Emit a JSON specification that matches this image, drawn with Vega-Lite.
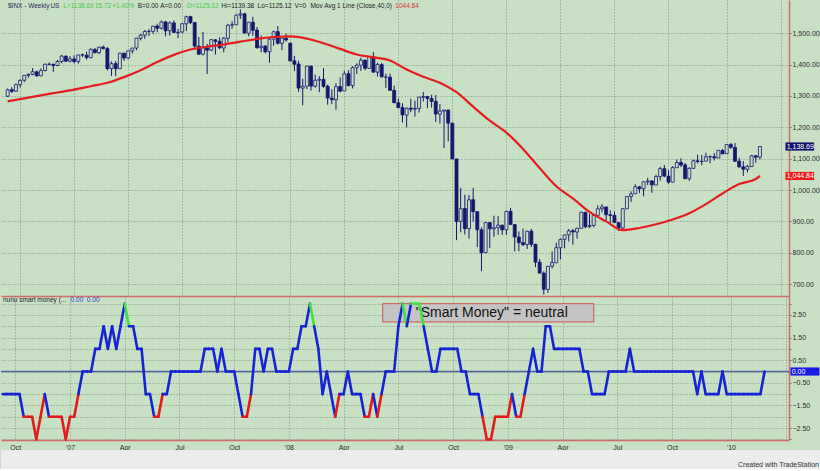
{
"$schema": "https://vega.github.io/schema/vega-lite/v6.json",
"background": "#c8e1c5",
"padding": 0,
"spacing": 0,
"config": {
  "view": {"stroke": null},
  "axis": {"labelFont": "Liberation Sans", "labelFontSize": 7, "labelColor": "#2a2a2a", "gridColor": "#6f806f", "gridDash": [1, 2], "gridOpacity": 0.8, "domainColor": "#d46a6a", "domainWidth": 1.5, "tickColor": "#6a6a6a", "labelOverlap": false},
  "text": {"font": "Liberation Sans"}
},
"datasets": {
"w": [
{"d":"2006-09-15","o":1299,"h":1324,"l":1297,"c":1319.66,"s":-1},
{"d":"2006-09-22","o":1320,"h":1328,"l":1309,"c":1314.78,"s":-1},
{"d":"2006-09-29","o":1315,"h":1340,"l":1314,"c":1335.85,"s":-1},
{"d":"2006-10-06","o":1336,"h":1353,"l":1327,"c":1349.59,"s":-1},
{"d":"2006-10-13","o":1350,"h":1366,"l":1344,"c":1365.62,"s":-1},
{"d":"2006-10-20","o":1366,"h":1372,"l":1358,"c":1368.6,"s":-2},
{"d":"2006-10-27","o":1369,"h":1389,"l":1366,"c":1377.34,"s":-2},
{"d":"2006-11-03","o":1377,"h":1381,"l":1361,"c":1364.3,"s":-2},
{"d":"2006-11-10","o":1364,"h":1388,"l":1363,"c":1380.9,"s":-3},
{"d":"2006-11-17","o":1381,"h":1403,"l":1378,"c":1401.2,"s":-2},
{"d":"2006-11-24","o":1401,"h":1407,"l":1398,"c":1400.95,"s":-1},
{"d":"2006-12-01","o":1401,"h":1403,"l":1377,"c":1396.71,"s":-2},
{"d":"2006-12-08","o":1397,"h":1415,"l":1395,"c":1409.84,"s":-2},
{"d":"2006-12-15","o":1410,"h":1431,"l":1404,"c":1427.09,"s":-2},
{"d":"2006-12-22","o":1427,"h":1429,"l":1409,"c":1410.76,"s":-2},
{"d":"2006-12-29","o":1411,"h":1427,"l":1407,"c":1418.3,"s":-3},
{"d":"2007-01-05","o":1418,"h":1429,"l":1404,"c":1409.71,"s":-2},
{"d":"2007-01-12","o":1410,"h":1431,"l":1403,"c":1430.73,"s":-2},
{"d":"2007-01-19","o":1431,"h":1435,"l":1424,"c":1430.5,"s":-1},
{"d":"2007-01-26","o":1430,"h":1441,"l":1416,"c":1422.18,"s":0},
{"d":"2007-02-02","o":1422,"h":1452,"l":1420,"c":1448.39,"s":0},
{"d":"2007-02-09","o":1448,"h":1453,"l":1436,"c":1438.06,"s":0},
{"d":"2007-02-16","o":1438,"h":1457,"l":1433,"c":1455.54,"s":1},
{"d":"2007-02-23","o":1456,"h":1461,"l":1448,"c":1451.19,"s":1},
{"d":"2007-03-02","o":1451,"h":1456,"l":1381,"c":1387.17,"s":2},
{"d":"2007-03-09","o":1387,"h":1410,"l":1364,"c":1402.84,"s":1},
{"d":"2007-03-16","o":1403,"h":1411,"l":1363,"c":1386.95,"s":2},
{"d":"2007-03-23","o":1387,"h":1438,"l":1386,"c":1436.11,"s":1},
{"d":"2007-03-30","o":1436,"h":1438,"l":1412,"c":1420.86,"s":2},
{"d":"2007-04-06","o":1421,"h":1445,"l":1417,"c":1443.76,"s":3},
{"d":"2007-04-13","o":1444,"h":1453,"l":1435,"c":1452.85,"s":2},
{"d":"2007-04-20","o":1453,"h":1485,"l":1446,"c":1484.35,"s":2},
{"d":"2007-04-27","o":1484,"h":1498,"l":1477,"c":1494.07,"s":1},
{"d":"2007-05-04","o":1494,"h":1510,"l":1482,"c":1505.62,"s":1},
{"d":"2007-05-11","o":1506,"h":1513,"l":1491,"c":1505.85,"s":-1},
{"d":"2007-05-18","o":1506,"h":1523,"l":1498,"c":1522.75,"s":-1},
{"d":"2007-05-25","o":1523,"h":1530,"l":1503,"c":1515.73,"s":-2},
{"d":"2007-06-01","o":1516,"h":1540,"l":1512,"c":1536.34,"s":-2},
{"d":"2007-06-08","o":1536,"h":1540,"l":1490,"c":1507.67,"s":-1},
{"d":"2007-06-15","o":1508,"h":1538,"l":1492,"c":1532.91,"s":-1},
{"d":"2007-06-22","o":1533,"h":1541,"l":1502,"c":1502.56,"s":0},
{"d":"2007-06-29","o":1502,"h":1514,"l":1484,"c":1503.35,"s":0},
{"d":"2007-07-06","o":1504,"h":1532,"l":1500,"c":1530.44,"s":0},
{"d":"2007-07-13","o":1530,"h":1556,"l":1507,"c":1552.5,"s":0},
{"d":"2007-07-20","o":1553,"h":1556,"l":1529,"c":1534.1,"s":0},
{"d":"2007-07-27","o":1534,"h":1535,"l":1453,"c":1458.95,"s":0},
{"d":"2007-08-03","o":1459,"h":1488,"l":1432,"c":1433.06,"s":0},
{"d":"2007-08-10","o":1433,"h":1504,"l":1429,"c":1453.64,"s":0},
{"d":"2007-08-17","o":1453,"h":1466,"l":1370,"c":1445.94,"s":1},
{"d":"2007-08-24","o":1446,"h":1481,"l":1443,"c":1479.37,"s":1},
{"d":"2007-08-31","o":1479,"h":1481,"l":1432,"c":1473.99,"s":1},
{"d":"2007-09-07","o":1474,"h":1487,"l":1449,"c":1453.55,"s":0},
{"d":"2007-09-14","o":1453,"h":1488,"l":1439,"c":1484.25,"s":1},
{"d":"2007-09-21","o":1484,"h":1530,"l":1471,"c":1525.75,"s":0},
{"d":"2007-09-28","o":1526,"h":1538,"l":1514,"c":1526.75,"s":0},
{"d":"2007-10-05","o":1527,"h":1560,"l":1527,"c":1557.59,"s":0},
{"d":"2007-10-12","o":1558,"h":1576,"l":1546,"c":1561.8,"s":-1},
{"d":"2007-10-19","o":1562,"h":1565,"l":1500,"c":1500.63,"s":-2},
{"d":"2007-10-26","o":1500,"h":1536,"l":1490,"c":1535.28,"s":-2},
{"d":"2007-11-02","o":1535,"h":1552,"l":1492,"c":1509.65,"s":-1},
{"d":"2007-11-09","o":1510,"h":1520,"l":1451,"c":1453.7,"s":1},
{"d":"2007-11-16","o":1454,"h":1493,"l":1439,"c":1458.74,"s":1},
{"d":"2007-11-23","o":1459,"h":1462,"l":1436,"c":1440.7,"s":0},
{"d":"2007-11-30","o":1441,"h":1488,"l":1406,"c":1481.14,"s":1},
{"d":"2007-12-07","o":1481,"h":1508,"l":1460,"c":1504.66,"s":1},
{"d":"2007-12-14","o":1505,"h":1523,"l":1464,"c":1467.95,"s":0},
{"d":"2007-12-21","o":1468,"h":1485,"l":1446,"c":1484.46,"s":0},
{"d":"2007-12-28","o":1484,"h":1499,"l":1473,"c":1478.49,"s":0},
{"d":"2008-01-04","o":1468,"h":1471,"l":1411,"c":1411.63,"s":0},
{"d":"2008-01-11","o":1412,"h":1428,"l":1379,"c":1401.02,"s":1},
{"d":"2008-01-18","o":1402,"h":1412,"l":1313,"c":1325.19,"s":1},
{"d":"2008-01-25","o":1325,"h":1355,"l":1270,"c":1330.61,"s":2},
{"d":"2008-02-01","o":1331,"h":1396,"l":1322,"c":1395.42,"s":2},
{"d":"2008-02-08","o":1395,"h":1397,"l":1317,"c":1331.29,"s":3},
{"d":"2008-02-15","o":1331,"h":1368,"l":1326,"c":1349.99,"s":2},
{"d":"2008-02-22","o":1350,"h":1363,"l":1312,"c":1353.11,"s":1},
{"d":"2008-02-29","o":1353,"h":1389,"l":1326,"c":1330.63,"s":-1},
{"d":"2008-03-07","o":1331,"h":1336,"l":1272,"c":1293.37,"s":0},
{"d":"2008-03-14","o":1293,"h":1321,"l":1274,"c":1288.14,"s":-1},
{"d":"2008-03-21","o":1288,"h":1341,"l":1256,"c":1329.51,"s":-2},
{"d":"2008-03-28","o":1330,"h":1359,"l":1312,"c":1315.22,"s":-1},
{"d":"2008-04-04","o":1316,"h":1380,"l":1316,"c":1370.4,"s":-1},
{"d":"2008-04-11","o":1371,"h":1382,"l":1331,"c":1332.83,"s":0},
{"d":"2008-04-18","o":1333,"h":1395,"l":1324,"c":1390.33,"s":-1},
{"d":"2008-04-25","o":1390,"h":1404,"l":1370,"c":1397.84,"s":-1},
{"d":"2008-05-02","o":1398,"h":1422,"l":1380,"c":1413.9,"s":-1},
{"d":"2008-05-09","o":1414,"h":1416,"l":1382,"c":1388.28,"s":-2},
{"d":"2008-05-16","o":1388,"h":1426,"l":1386,"c":1425.35,"s":-2},
{"d":"2008-05-23","o":1425,"h":1440,"l":1374,"c":1375.93,"s":-1},
{"d":"2008-05-30","o":1376,"h":1406,"l":1362,"c":1400.38,"s":-2},
{"d":"2008-06-06","o":1400,"h":1405,"l":1360,"c":1360.68,"s":-1},
{"d":"2008-06-13","o":1360,"h":1371,"l":1326,"c":1360.03,"s":0},
{"d":"2008-06-20","o":1360,"h":1371,"l":1316,"c":1317.93,"s":0},
{"d":"2008-06-27","o":1318,"h":1333,"l":1278,"c":1278.38,"s":0},
{"d":"2008-07-04","o":1278,"h":1292,"l":1261,"c":1262.9,"s":2},
{"d":"2008-07-11","o":1263,"h":1277,"l":1215,"c":1239.49,"s":3},
{"d":"2008-07-18","o":1239,"h":1263,"l":1200,"c":1260.68,"s":2},
{"d":"2008-07-25","o":1261,"h":1291,"l":1248,"c":1257.76,"s":3},
{"d":"2008-08-01","o":1258,"h":1285,"l":1234,"c":1260.31,"s":3},
{"d":"2008-08-08","o":1260,"h":1297,"l":1247,"c":1296.32,"s":3},
{"d":"2008-08-15","o":1296,"h":1313,"l":1282,"c":1298.2,"s":2},
{"d":"2008-08-22","o":1298,"h":1300,"l":1261,"c":1292.2,"s":1},
{"d":"2008-08-29","o":1292,"h":1304,"l":1263,"c":1282.83,"s":0},
{"d":"2008-09-05","o":1283,"h":1303,"l":1217,"c":1242.31,"s":0},
{"d":"2008-09-12","o":1242,"h":1274,"l":1212,"c":1251.7,"s":1},
{"d":"2008-09-19","o":1252,"h":1255,"l":1134,"c":1255.08,"s":1},
{"d":"2008-09-26","o":1255,"h":1256,"l":1155,"c":1213.27,"s":1},
{"d":"2008-10-03","o":1213,"h":1215,"l":1099,"c":1099.23,"s":1},
{"d":"2008-10-10","o":1099,"h":1099,"l":840,"c":899.22,"s":1},
{"d":"2008-10-17","o":900,"h":1007,"l":865,"c":940.55,"s":0},
{"d":"2008-10-24","o":941,"h":985,"l":858,"c":876.77,"s":0},
{"d":"2008-10-31","o":877,"h":984,"l":845,"c":968.75,"s":-1},
{"d":"2008-11-07","o":969,"h":1007,"l":899,"c":930.99,"s":-1},
{"d":"2008-11-14","o":931,"h":933,"l":818,"c":873.29,"s":-1},
{"d":"2008-11-21","o":873,"h":881,"l":741,"c":800.03,"s":-2},
{"d":"2008-11-28","o":800,"h":896,"l":799,"c":896.24,"s":-3},
{"d":"2008-12-05","o":896,"h":896,"l":815,"c":876.07,"s":-3},
{"d":"2008-12-12","o":876,"h":918,"l":851,"c":879.73,"s":-2},
{"d":"2008-12-19","o":880,"h":917,"l":857,"c":887.88,"s":-2},
{"d":"2008-12-26","o":888,"h":889,"l":857,"c":872.8,"s":-2},
{"d":"2009-01-02","o":873,"h":934,"l":857,"c":931.8,"s":-2},
{"d":"2009-01-09","o":932,"h":943,"l":889,"c":890.35,"s":-1},
{"d":"2009-01-16","o":890,"h":890,"l":804,"c":850.12,"s":-2},
{"d":"2009-01-23","o":850,"h":868,"l":805,"c":831.95,"s":-2},
{"d":"2009-01-30","o":832,"h":877,"l":821,"c":825.88,"s":-1},
{"d":"2009-02-06","o":826,"h":870,"l":812,"c":868.6,"s":0},
{"d":"2009-02-13","o":869,"h":876,"l":818,"c":826.84,"s":1},
{"d":"2009-02-20","o":827,"h":828,"l":754,"c":770.05,"s":0},
{"d":"2009-02-27","o":770,"h":780,"l":735,"c":735.09,"s":0},
{"d":"2009-03-06","o":735,"h":741,"l":667,"c":683.38,"s":2},
{"d":"2009-03-13","o":683,"h":758,"l":672,"c":756.55,"s":2},
{"d":"2009-03-20","o":757,"h":804,"l":750,"c":768.54,"s":1},
{"d":"2009-03-27","o":768,"h":832,"l":767,"c":815.94,"s":1},
{"d":"2009-04-03","o":816,"h":845,"l":779,"c":842.5,"s":1},
{"d":"2009-04-10","o":843,"h":857,"l":814,"c":856.56,"s":1},
{"d":"2009-04-17","o":857,"h":876,"l":836,"c":869.6,"s":1},
{"d":"2009-04-24","o":870,"h":876,"l":826,"c":866.23,"s":1},
{"d":"2009-05-01","o":866,"h":880,"l":845,"c":877.52,"s":1},
{"d":"2009-05-08","o":878,"h":930,"l":878,"c":929.23,"s":0},
{"d":"2009-05-15","o":929,"h":930,"l":878,"c":882.88,"s":0},
{"d":"2009-05-22","o":883,"h":924,"l":879,"c":887,"s":-1},
{"d":"2009-05-29","o":887,"h":920,"l":881,"c":919.14,"s":-1},
{"d":"2009-06-05","o":919,"h":951,"l":919,"c":940.09,"s":-1},
{"d":"2009-06-12","o":940,"h":956,"l":928,"c":946.21,"s":-1},
{"d":"2009-06-19","o":946,"h":946,"l":903,"c":921.23,"s":0},
{"d":"2009-06-26","o":921,"h":935,"l":888,"c":918.9,"s":0},
{"d":"2009-07-03","o":919,"h":931,"l":896,"c":896.42,"s":0},
{"d":"2009-07-10","o":896,"h":898,"l":869,"c":879.13,"s":0},
{"d":"2009-07-17","o":879,"h":943,"l":875,"c":940.38,"s":0},
{"d":"2009-07-24","o":940,"h":980,"l":940,"c":979.26,"s":1},
{"d":"2009-07-31","o":979,"h":996,"l":962,"c":987.48,"s":0},
{"d":"2009-08-07","o":988,"h":1018,"l":988,"c":1010.48,"s":0},
{"d":"2009-08-14","o":1010,"h":1013,"l":990,"c":1004.09,"s":0},
{"d":"2009-08-21","o":1004,"h":1027,"l":980,"c":1026.13,"s":0},
{"d":"2009-08-28","o":1026,"h":1039,"l":1016,"c":1028.93,"s":0},
{"d":"2009-09-04","o":1029,"h":1031,"l":991,"c":1016.4,"s":0},
{"d":"2009-09-11","o":1016,"h":1049,"l":1016,"c":1042.73,"s":0},
{"d":"2009-09-18","o":1043,"h":1074,"l":1030,"c":1068.3,"s":0},
{"d":"2009-09-25","o":1068,"h":1080,"l":1041,"c":1044.38,"s":0},
{"d":"2009-10-02","o":1044,"h":1063,"l":1020,"c":1025.21,"s":0},
{"d":"2009-10-09","o":1025,"h":1076,"l":1025,"c":1071.49,"s":0},
{"d":"2009-10-16","o":1071,"h":1097,"l":1071,"c":1087.68,"s":0},
{"d":"2009-10-23","o":1088,"h":1101,"l":1073,"c":1079.6,"s":0},
{"d":"2009-10-30","o":1080,"h":1086,"l":1034,"c":1036.19,"s":0},
{"d":"2009-11-06","o":1036,"h":1072,"l":1029,"c":1069.3,"s":0},
{"d":"2009-11-13","o":1069,"h":1097,"l":1069,"c":1093.48,"s":-1},
{"d":"2009-11-20","o":1093,"h":1113,"l":1085,"c":1091.38,"s":0},
{"d":"2009-11-27","o":1091,"h":1112,"l":1079,"c":1091.49,"s":-1},
{"d":"2009-12-04","o":1092,"h":1119,"l":1092,"c":1105.98,"s":-1},
{"d":"2009-12-11","o":1106,"h":1110,"l":1085,"c":1106.41,"s":-1},
{"d":"2009-12-18","o":1106,"h":1118,"l":1094,"c":1102.47,"s":-1},
{"d":"2009-12-25","o":1102,"h":1127,"l":1102,"c":1126.48,"s":0},
{"d":"2010-01-01","o":1126,"h":1131,"l":1115,"c":1115.1,"s":-1},
{"d":"2010-01-08","o":1116,"h":1146,"l":1116,"c":1144.98,"s":-1},
{"d":"2010-01-15","o":1145,"h":1150,"l":1131,"c":1136.03,"s":-1},
{"d":"2010-01-22","o":1136,"h":1150,"l":1090,"c":1091.76,"s":-1},
{"d":"2010-01-29","o":1092,"h":1103,"l":1071,"c":1073.87,"s":-1},
{"d":"2010-02-05","o":1074,"h":1092,"l":1045,"c":1066.19,"s":-1},
{"d":"2010-02-12","o":1066,"h":1080,"l":1056,"c":1075.51,"s":-1},
{"d":"2010-02-19","o":1075,"h":1112,"l":1075,"c":1109.17,"s":-1},
{"d":"2010-02-26","o":1109,"h":1112,"l":1087,"c":1104.49,"s":-1},
{"d":"2010-03-05","o":1105,"h":1139,"l":1098,"c":1138.7,"s":0}
],
"ma": [
{"d":"2006-09-15","v":1283},{"d":"2006-10-13","v":1292},{"d":"2006-11-10","v":1302},{"d":"2006-12-08","v":1311},
{"d":"2007-01-05","v":1320},{"d":"2007-02-02","v":1331},{"d":"2007-03-02","v":1342},{"d":"2007-03-30","v":1360},
{"d":"2007-04-27","v":1382},{"d":"2007-05-25","v":1408},{"d":"2007-06-22","v":1431},{"d":"2007-07-20","v":1448},
{"d":"2007-08-17","v":1457},{"d":"2007-09-14","v":1464},{"d":"2007-10-12","v":1473},{"d":"2007-11-09","v":1482},
{"d":"2007-12-07","v":1488},{"d":"2008-01-04","v":1490},{"d":"2008-02-01","v":1483},{"d":"2008-02-29","v":1468},
{"d":"2008-03-28","v":1450},{"d":"2008-04-25","v":1432},{"d":"2008-05-23","v":1423},{"d":"2008-06-20","v":1413},
{"d":"2008-07-18","v":1384},{"d":"2008-08-15","v":1361},{"d":"2008-09-12","v":1342},{"d":"2008-10-10","v":1312},
{"d":"2008-11-07","v":1266},{"d":"2008-12-05","v":1221},{"d":"2009-01-02","v":1183},{"d":"2009-01-30","v":1131},
{"d":"2009-02-27","v":1070},{"d":"2009-03-27","v":1012},{"d":"2009-04-24","v":973},{"d":"2009-05-22","v":930},
{"d":"2009-06-19","v":900},{"d":"2009-07-17","v":872},{"d":"2009-08-14","v":879},{"d":"2009-09-11","v":891},
{"d":"2009-10-09","v":906},{"d":"2009-11-06","v":926},{"d":"2009-12-04","v":955},{"d":"2010-01-01","v":989},
{"d":"2010-01-29","v":1019},{"d":"2010-02-26","v":1035},{"d":"2010-03-05","v":1044.84}
]
},
"vconcat": [
{
  "width": 788, "height": 296,
  "layer": [
    {"data": {"name": "w", "format": {"parse": {"d": "date"}}},
     "mark": {"type": "rule", "color": "#16166e", "strokeWidth": 1},
     "encoding": {
       "x": {"field": "d", "type": "temporal",
             "scale": {"type": "utc", "domain": [{"year":2006,"month":9,"date":12,"hours":6,"utc":true},{"year":2010,"month":4,"date":14,"hours":13,"utc":true}]},
             "axis": {"title": null, "labels": false, "ticks": false, "domain": true, "grid": true, "tickCount": 40,
                      "values": [{"year":2006,"month":10,"date":6,"utc":true},{"year":2007,"month":1,"date":5,"utc":true},{"year":2007,"month":4,"date":6,"utc":true},{"year":2007,"month":7,"date":6,"utc":true},{"year":2007,"month":10,"date":5,"utc":true},{"year":2008,"month":1,"date":4,"utc":true},{"year":2008,"month":4,"date":4,"utc":true},{"year":2008,"month":7,"date":4,"utc":true},{"year":2008,"month":10,"date":3,"utc":true},{"year":2009,"month":1,"date":2,"utc":true},{"year":2009,"month":4,"date":3,"utc":true},{"year":2009,"month":7,"date":3,"utc":true},{"year":2009,"month":10,"date":2,"utc":true},{"year":2010,"month":1,"date":8,"utc":true},{"year":2010,"month":4,"date":9,"utc":true}]}},
       "y": {"field": "l", "type": "quantitative",
             "scale": {"domain": [662, 1606], "nice": false, "zero": false},
             "axis": {"title": null, "orient": "right", "values": [700,800,900,1000,1100,1200,1300,1400,1500], "tickCount": 40, "format": ",.2f", "grid": true, "tickSize": 2, "labelPadding": 1, "labelOverlap": false}},
       "y2": {"field": "h"}
     }},
    {"data": {"name": "w", "format": {"parse": {"d": "date"}}},
     "mark": {"type": "bar", "width": 3, "stroke": "#16166e", "strokeWidth": 0.8},
     "encoding": {
       "x": {"field": "d", "type": "temporal"},
       "y": {"field": "o", "type": "quantitative"},
       "y2": {"field": "c"},
       "fill": {"condition": {"test": "datum.c > datum.o", "value": "#c8e1c5"}, "value": "#16166e"}
     }},
    {"data": {"name": "ma", "format": {"parse": {"d": "date"}}},
     "mark": {"type": "line", "color": "#e41e1e", "strokeWidth": 2.2, "interpolate": "monotone"},
     "encoding": {"x": {"field": "d", "type": "temporal"}, "y": {"field": "v", "type": "quantitative"}}},
    {"data": {"values": [{}]}, "mark": {"type": "text", "align": "left", "baseline": "middle", "fontSize": 6.5, "color": "#2c2c5c"},
     "encoding": {"x": {"datum": {"year":2006,"month":9,"date":15,"hours":14,"utc":true}, "type": "temporal"}, "y": {"datum": 1587, "type": "quantitative"}, "text": {"value": "$INX - Weekly"}}},
    {"data": {"values": [{}]}, "mark": {"type": "text", "align": "left", "baseline": "middle", "fontSize": 6.5, "color": "#2c2c5c"},
     "encoding": {"x": {"datum": {"year":2006,"month":11,"date":26,"utc":true}, "type": "temporal"}, "y": {"datum": 1587, "type": "quantitative"}, "text": {"value": "US"}}},
    {"data": {"values": [{}]}, "mark": {"type": "text", "align": "left", "baseline": "middle", "fontSize": 6.5, "color": "#46c846"},
     "encoding": {"x": {"datum": {"year":2006,"month":12,"date":17,"hours":16,"utc":true}, "type": "temporal"}, "y": {"datum": 1587, "type": "quantitative"}, "text": {"value": "L=1138.69"}}},
    {"data": {"values": [{}]}, "mark": {"type": "text", "align": "left", "baseline": "middle", "fontSize": 6.5, "color": "#46c846"},
     "encoding": {"x": {"datum": {"year":2007,"month":2,"date":9,"utc":true}, "type": "temporal"}, "y": {"datum": 1587, "type": "quantitative"}, "text": {"value": "15.72"}}},
    {"data": {"values": [{}]}, "mark": {"type": "text", "align": "left", "baseline": "middle", "fontSize": 6.5, "color": "#46c846"},
     "encoding": {"x": {"datum": {"year":2007,"month":3,"date":10,"utc":true}, "type": "temporal"}, "y": {"datum": 1587, "type": "quantitative"}, "text": {"value": "+1.40%"}}},
    {"data": {"values": [{}]}, "mark": {"type": "text", "align": "left", "baseline": "middle", "fontSize": 6.5, "color": "#222222"},
     "encoding": {"x": {"datum": {"year":2007,"month":4,"date":22,"utc":true}, "type": "temporal"}, "y": {"datum": 1587, "type": "quantitative"}, "text": {"value": "B=0.00"}}},
    {"data": {"values": [{}]}, "mark": {"type": "text", "align": "left", "baseline": "middle", "fontSize": 6.5, "color": "#222222"},
     "encoding": {"x": {"datum": {"year":2007,"month":5,"date":30,"utc":true}, "type": "temporal"}, "y": {"datum": 1587, "type": "quantitative"}, "text": {"value": "A=0.00"}}},
    {"data": {"values": [{}]}, "mark": {"type": "text", "align": "left", "baseline": "middle", "fontSize": 6.5, "color": "#46c846"},
     "encoding": {"x": {"datum": {"year":2007,"month":7,"date":13,"hours":14,"utc":true}, "type": "temporal"}, "y": {"datum": 1587, "type": "quantitative"}, "text": {"value": "O=1125.12"}}},
    {"data": {"values": [{}]}, "mark": {"type": "text", "align": "left", "baseline": "middle", "fontSize": 6.5, "color": "#222222"},
     "encoding": {"x": {"datum": {"year":2007,"month":9,"date":9,"hours":18,"utc":true}, "type": "temporal"}, "y": {"datum": 1587, "type": "quantitative"}, "text": {"value": "Hi=1139.38"}}},
    {"data": {"values": [{}]}, "mark": {"type": "text", "align": "left", "baseline": "middle", "fontSize": 6.5, "color": "#222222"},
     "encoding": {"x": {"datum": {"year":2007,"month":11,"date":10,"utc":true}, "type": "temporal"}, "y": {"datum": 1587, "type": "quantitative"}, "text": {"value": "Lo=1125.12"}}},
    {"data": {"values": [{}]}, "mark": {"type": "text", "align": "left", "baseline": "middle", "fontSize": 6.5, "color": "#222222"},
     "encoding": {"x": {"datum": {"year":2008,"month":1,"date":11,"utc":true}, "type": "temporal"}, "y": {"datum": 1587, "type": "quantitative"}, "text": {"value": "V=0"}}},
    {"data": {"values": [{}]}, "mark": {"type": "text", "align": "left", "baseline": "middle", "fontSize": 6.5, "color": "#222222"},
     "encoding": {"x": {"datum": {"year":2008,"month":2,"date":7,"utc":true}, "type": "temporal"}, "y": {"datum": 1587, "type": "quantitative"}, "text": {"value": "Mov Avg 1 Line (Close,40,0)"}}},
    {"data": {"values": [{}]}, "mark": {"type": "text", "align": "left", "baseline": "middle", "fontSize": 6.5, "color": "#e03030"},
     "encoding": {"x": {"datum": {"year":2008,"month":6,"date":29,"utc":true}, "type": "temporal"}, "y": {"datum": 1587, "type": "quantitative"}, "text": {"value": "1044.84"}}},
    {"data": {"values": [{}]},
     "mark": {"type": "rect", "fill": "#12126e"},
     "encoding": {"x": {"datum": {"year":2010,"month":4,"date":17,"utc":true}, "type": "temporal"}, "x2": {"datum": {"year":2010,"month":6,"date":4,"hours":6,"utc":true}}, "y": {"datum": 1151.7, "type": "quantitative"}, "y2": {"datum": 1125.7}}},
    {"data": {"values": [{}]},
     "mark": {"type": "text", "align": "left", "baseline": "middle", "fontSize": 7, "color": "#ffffff"},
     "encoding": {"x": {"datum": {"year":2010,"month":4,"date":19,"utc":true}, "type": "temporal"}, "y": {"datum": 1138.69, "type": "quantitative"}, "text": {"value": "1,138.69"}}},
    {"data": {"values": [{}]},
     "mark": {"type": "rect", "fill": "#f01c1c"},
     "encoding": {"x": {"datum": {"year":2010,"month":4,"date":17,"utc":true}, "type": "temporal"}, "x2": {"datum": {"year":2010,"month":6,"date":4,"hours":6,"utc":true}}, "y": {"datum": 1057.8, "type": "quantitative"}, "y2": {"datum": 1031.8}}},
    {"data": {"values": [{}]},
     "mark": {"type": "text", "align": "left", "baseline": "middle", "fontSize": 7, "color": "#ffffff"},
     "encoding": {"x": {"datum": {"year":2010,"month":4,"date":19,"utc":true}, "type": "temporal"}, "y": {"datum": 1044.84, "type": "quantitative"}, "text": {"value": "1,044.84"}}}
  ]
},
{
  "width": 788, "height": 144,
  "layer": [
    {"data": {"values": [{}]},
     "mark": {"type": "rule", "color": "#4f629c", "strokeWidth": 1.5},
     "encoding": {"y": {"datum": 0, "type": "quantitative",
        "scale": {"domain": [-3.03, 3.34], "nice": false, "zero": false},
        "axis": {"title": null, "orient": "right", "values": [-3,-2.5,-2,-1.5,-1,-0.5,0,0.5,1,1.5,2,2.5,3], "tickCount": 40, "labelExpr": "datum.value % 1 == 0 ? '' : format(datum.value, '.2f')", "grid": true, "tickSize": 2, "labelPadding": 1, "labelOverlap": false}}}},
    {"data": {"values": [{}]},
     "mark": {"type": "rect", "fill": "#c4c4c4", "stroke": "#d45050", "strokeWidth": 1},
     "encoding": {"x": {"datum": {"year":2008,"month":6,"date":8,"utc":true}, "type": "temporal"}, "x2": {"datum": {"year":2009,"month":5,"date":25,"utc":true}}, "y": {"datum": 3.0, "type": "quantitative"}, "y2": {"datum": 2.19}}},
    {"data": {"values": [{}]},
     "mark": {"type": "text", "align": "left", "baseline": "middle", "fontSize": 14, "color": "#111111"},
     "encoding": {"x": {"datum": {"year":2008,"month":8,"date":2,"utc":true}, "type": "temporal"}, "y": {"datum": 2.6, "type": "quantitative"}, "text": {"value": "\"Smart Money\" = neutral"}}},
    {"data": {"name": "w", "format": {"parse": {"d": "date"}}},
     "transform": [
       {"window": [{"op": "lead", "field": "s", "as": "s2"}, {"op": "lead", "field": "d", "as": "d2"}], "sort": [{"field": "d", "order": "ascending"}]},
       {"filter": "datum.d2 != null"}
     ],
     "mark": {"type": "rule", "strokeWidth": 2.6, "strokeCap": "round"},
     "encoding": {
       "x": {"field": "d", "type": "temporal",
             "scale": {"type": "utc", "domain": [{"year":2006,"month":9,"date":12,"hours":6,"utc":true},{"year":2010,"month":4,"date":14,"hours":13,"utc":true}]},
             "axis": {"title": null, "ticks": false, "grid": true, "tickCount": 40, "labelPadding": 3, "labelBaseline": "top", "labelAlign": "center", "labelFlush": false, "labelOverlap": false,
                      "labelExpr": "utcmonth(datum.value) == 0 ? \"'\" + utcFormat(datum.value, '%y') : (utcyear(datum.value) >= 2010 ? '' : utcFormat(datum.value, '%b'))",
                      "values": [{"year":2006,"month":10,"date":6,"utc":true},{"year":2007,"month":1,"date":5,"utc":true},{"year":2007,"month":4,"date":6,"utc":true},{"year":2007,"month":7,"date":6,"utc":true},{"year":2007,"month":10,"date":5,"utc":true},{"year":2008,"month":1,"date":4,"utc":true},{"year":2008,"month":4,"date":4,"utc":true},{"year":2008,"month":7,"date":4,"utc":true},{"year":2008,"month":10,"date":3,"utc":true},{"year":2009,"month":1,"date":2,"utc":true},{"year":2009,"month":4,"date":3,"utc":true},{"year":2009,"month":7,"date":3,"utc":true},{"year":2009,"month":10,"date":2,"utc":true},{"year":2010,"month":1,"date":8,"utc":true},{"year":2010,"month":4,"date":9,"utc":true}]}},
       "x2": {"field": "d2"},
       "y": {"field": "s", "type": "quantitative"},
       "y2": {"field": "s2"},
       "color": {"field": "s", "type": "quantitative", "scale": {"type": "threshold", "domain": [-1.5, 2.5], "range": ["#e41a1a", "#1424d4", "#3ee23e"]}, "legend": null}
     }},
    {"data": {"values": [{}]},
     "mark": {"type": "text", "align": "left", "baseline": "middle", "fontSize": 6.5, "color": "#222222"},
     "encoding": {"x": {"datum": {"year":2006,"month":9,"date":15,"hours":14,"utc":true}, "type": "temporal"}, "y": {"datum": 3.16, "type": "quantitative"}, "text": {"value": "nunu smart money (..."}}},
    {"data": {"values": [{}]},
     "mark": {"type": "text", "align": "left", "baseline": "middle", "fontSize": 6.5, "color": "#2a3ad8"},
     "encoding": {"x": {"datum": {"year":2007,"month":1,"date":6,"utc":true}, "type": "temporal"}, "y": {"datum": 3.16, "type": "quantitative"}, "text": {"value": "0.00"}}},
    {"data": {"values": [{}]},
     "mark": {"type": "text", "align": "left", "baseline": "middle", "fontSize": 6.5, "color": "#2a3ad8"},
     "encoding": {"x": {"datum": {"year":2007,"month":2,"date":2,"utc":true}, "type": "temporal"}, "y": {"datum": 3.16, "type": "quantitative"}, "text": {"value": "0.00"}}},
    {"data": {"values": [{}]},
     "mark": {"type": "rect", "fill": "#1a1ae6"},
     "encoding": {"x": {"datum": {"year":2010,"month":4,"date":17,"utc":true}, "type": "temporal"}, "x2": {"datum": {"year":2010,"month":6,"date":4,"hours":6,"utc":true}}, "y": {"datum": 0.18, "type": "quantitative"}, "y2": {"datum": -0.18}}},
    {"data": {"values": [{}]},
     "mark": {"type": "text", "align": "left", "baseline": "middle", "fontSize": 7, "color": "#ffffff"},
     "encoding": {"x": {"datum": {"year":2010,"month":4,"date":19,"utc":true}, "type": "temporal"}, "y": {"datum": 0, "type": "quantitative"}, "text": {"value": "0.00"}}}
  ]
},
{
  "width": 820, "height": 19,
  "view": {"fill": "#ececec", "stroke": null},
  "data": {"values": [{}]},
  "mark": {"type": "text", "align": "right", "baseline": "bottom", "fontSize": 7, "color": "#333333", "dx": -2, "dy": -1},
  "encoding": {
    "x": {"datum": 1, "type": "quantitative", "scale": {"domain": [0, 1]}, "axis": null},
    "y": {"datum": 0, "type": "quantitative", "scale": {"domain": [0, 1]}, "axis": null},
    "text": {"value": "Created with TradeStation"}
  }
}
]
}
